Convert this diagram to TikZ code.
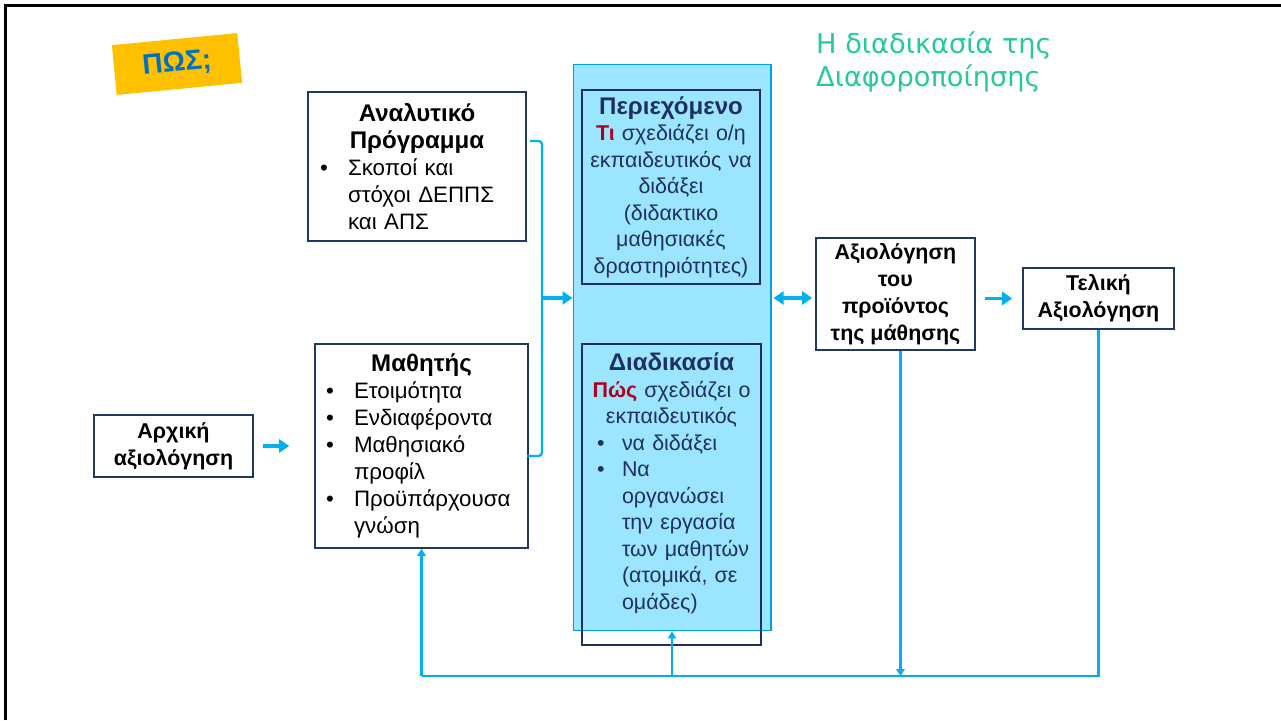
\documentclass[tikz,border=0pt]{standalone}
\usepackage{fontspec}
\setmainfont{Liberation Sans}
\newfontfamily\titlefont{DejaVu Sans}
\usetikzlibrary{arrows.meta}

\definecolor{navyline}{RGB}{31,56,100}
\definecolor{navytext}{RGB}{31,48,96}
\definecolor{lineblue}{RGB}{0,176,240}
\definecolor{panelblue}{RGB}{155,229,255}
\definecolor{paneledge}{RGB}{0,160,220}
\definecolor{keyred}{RGB}{176,0,32}
\definecolor{titlegreen}{RGB}{38,200,156}
\definecolor{tagyellow}{RGB}{255,192,0}
\definecolor{tagblue}{RGB}{0,112,192}

\newcommand{\boxfont}{\fontsize{12.7pt}{15.4pt}\selectfont\parindent=0pt}
\newcommand{\midfont}{\fontsize{12.2pt}{15.1pt}\selectfont\parindent=0pt}
\newcommand{\headfont}{\fontsize{13.7pt}{15.4pt}\selectfont\bfseries}
\newcommand{\bitem}[2][0.56cm]{\par\noindent\hangindent=#1\hangafter=1\makebox[#1][l]{\textbullet}#2\par}

\begin{document}
\begin{tikzpicture}[x=0.02cm,y=-0.02cm,
  box/.style={draw=navyline,line width=0.9pt,fill=white,inner ysep=0pt,font=\boxfont},
  plainbox/.style={box,align=center,font=\fontsize{12.2pt}{15.4pt}\selectfont\bfseries},
  innerbox/.style={draw=navytext,line width=0.9pt,inner ysep=0pt,text=navytext,font=\midfont},
  panel/.style={fill=panelblue,draw=paneledge,line width=0.6pt},
  feed/.style={draw=lineblue,line width=1.3pt},
  feedarr/.style={feed,-{Triangle[length=0.14cm,width=0.17cm]}},
  bigarr/.style={draw=lineblue,line width=2pt,-{Triangle[length=0.2cm,width=0.26cm]}},
  dblarr/.style={draw=lineblue,line width=2pt,{Triangle[length=0.2cm,width=0.26cm]}-{Triangle[length=0.2cm,width=0.26cm]}}]
\useasboundingbox (0,0) rectangle (1281,720);
\draw[line width=1.2pt] (5.5,720) -- (5.5,5.5) -- (1281,5.5);

\node[fill=tagyellow,rotate=5.5,minimum width=2.52cm,minimum height=1cm,text=tagblue,font=\fontsize{16pt}{18pt}\selectfont\bfseries] (tag) at (177,64) {ΠΩΣ;};
\node[text=titlegreen,align=left,anchor=west,font=\titlefont\fontsize{15.5pt}{18.8pt}\selectfont] (title) at (810,62) {Η διαδικασία της\\Διαφοροποίησης};

\node[panel,minimum width=3.96cm,minimum height=11.34cm] (panel) at (672,347.5) {};

\node[box,align=left,minimum width=4.36cm,minimum height=2.98cm,inner xsep=0.24cm,text width=3.88cm] (curric) at (417,166.5)
  {{\centering\headfont Αναλυτικό\\Πρόγραμμα\par}\bitem{Σκοποί και\newline στόχοι ΔΕΠΠΣ\newline και ΑΠΣ}};
\node[box,align=left,minimum width=4.26cm,minimum height=4.08cm,inner xsep=0.22cm,text width=3.82cm] (pupil) at (421.5,446)
  {{\centering\headfont Μαθητής\par}\bitem{Ετοιμότητα}\bitem{Ενδιαφέροντα}\bitem{Μαθησιακό\newline προφίλ}\bitem{Προϋπάρχουσα\newline γνώση}};
\node[plainbox,minimum width=3.18cm,minimum height=1.24cm] (initial) at (173.5,446) {Αρχική\\αξιολόγηση};

\node[innerbox,align=center,minimum width=3.56cm,minimum height=3.88cm,inner xsep=0.1cm,text width=3.36cm] (content) at (671,187)
  {{\headfont Περιεχόμενο}\\{\bfseries\color{keyred}Τι} σχεδιάζει ο/η\\εκπαιδευτικός να\\διδάξει\\(διδακτικο\\μαθησιακές\\δραστηριότητες)};
\node[innerbox,align=left,minimum width=3.58cm,minimum height=6.02cm,inner xsep=0.1cm,text width=3.38cm] (process) at (671.5,494.5)
  {{\centering{\headfont Διαδικασία}\\{\bfseries\color{keyred}Πώς} σχεδιάζει ο\\εκπαιδευτικός\par}{\leftskip=0.2cm\bitem[0.5cm]{να διδάξει}\bitem[0.5cm]{Να\newline οργανώσει\newline την εργασία\newline των μαθητών\newline (ατομικά, σε\newline ομάδες)}}\mbox{}};

\node[plainbox,minimum width=3.18cm,minimum height=2.24cm] (product) at (895.5,294) {Αξιολόγηση\\του\\προϊόντος\\της μάθησης};
\node[plainbox,minimum width=3.02cm,minimum height=1.22cm] (final) at (1098.5,298.5) {Τελική\\Αξιολόγηση};

\coordinate (brtop) at (530,141);
\coordinate (brbot) at (527,456);
\coordinate (brmid) at (542,298);
\coordinate (fb) at (0,676);

\draw[feed,rounded corners=2pt] (brtop) -- (brtop -| brmid) -- (brbot -| brmid) -- (brbot);
\draw[bigarr] (brmid) -- (brmid -| panel.west);
\draw[bigarr,shorten <=0.18cm,shorten >=0.5cm] (initial.east) -- (initial.east -| pupil.west);
\draw[dblarr,shorten <=0.04cm,shorten >=0.06cm] ([yshift=-0.08cm]product.west -| panel.east) -- ([yshift=-0.08cm]product.west);
\draw[bigarr,shorten <=0.18cm,shorten >=0.2cm] (product.east |- final.west) -- (final.west);

\draw[feed] (final.south) -- (final.south |- fb) -- (pupil.south |- fb);
\draw[feedarr] (pupil.south |- fb) -- (pupil.south);
\draw[feedarr] (panel.south |- fb) -- (panel.south);
\draw[feedarr] ([xshift=0.1cm]product.south) -- ([xshift=0.1cm]product.south |- fb);

\end{tikzpicture}
\end{document}
